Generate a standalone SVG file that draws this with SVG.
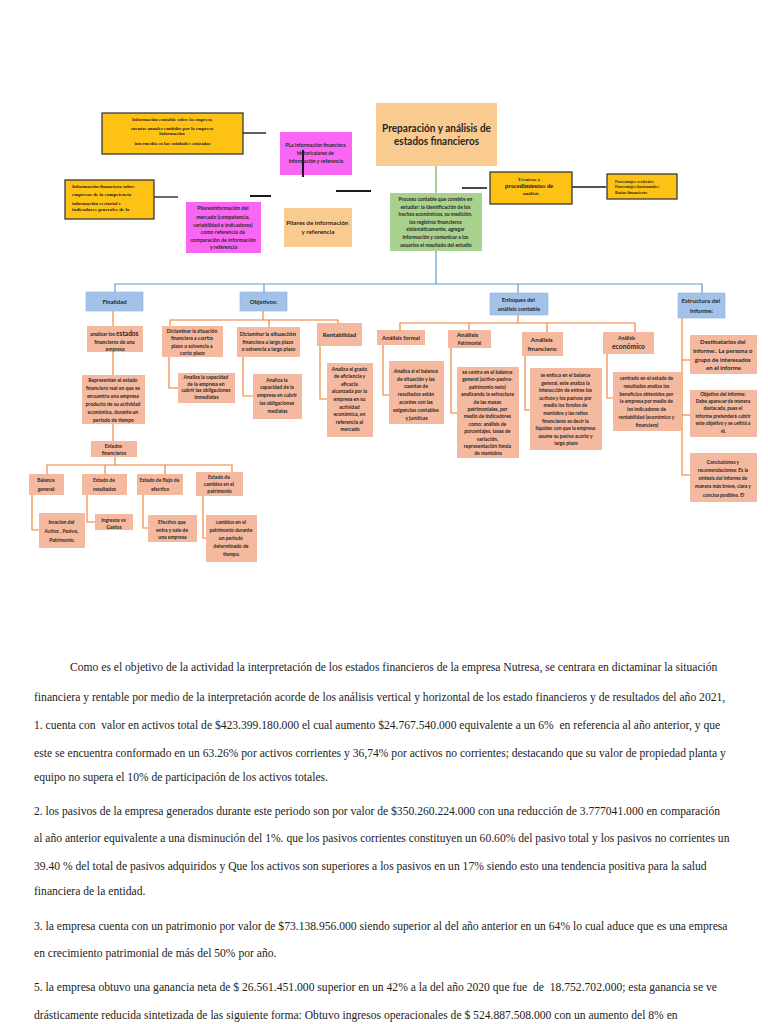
<svg xmlns="http://www.w3.org/2000/svg" width="768" height="1024" viewBox="0 0 768 1024">
<style>
.bg{fill:#ffffff}
.peach{fill:#FACB90}
.green{fill:#A9D18E}
.yellow{fill:#FDC213;stroke:#3a3a3a;stroke-width:1.3}
.pink{fill:#F966F3}
.blue{fill:#A2C2E8;stroke:#8FB2DE;stroke-width:0.6}
.salmon{fill:#F5B99F}
.lb{font-family:Lato,"Open Sans",sans-serif;font-weight:bold;fill:#262626;text-anchor:middle}
.sf{font-family:"Liberation Serif",serif;font-weight:bold;fill:#262626}
.para{font-family:"Liberation Serif","Times New Roman",serif;font-size:11.6px;fill:#222;white-space:pre}
.ko{fill:none;stroke:#1a1a1a}
.co{fill:none;stroke:#ED7D31;stroke-width:1.1}
.cb{fill:none;stroke:#5B9BD5;stroke-width:1.2}
.cg{fill:none;stroke:#70AD47;stroke-width:1.2}
</style>
<rect class="bg" x="0" y="0" width="768" height="1024"/>

<g id="connectors">
  <line class="ko" x1="243" y1="133" x2="266" y2="133" stroke-width="1.4"/>
  <line class="ko" x1="154" y1="197" x2="178" y2="197" stroke-width="1.3"/>
  <line class="ko" x1="250" y1="196" x2="271" y2="196" stroke-width="2"/>
  <line class="ko" x1="336" y1="191" x2="371" y2="191" stroke-width="2"/>
  <line class="ko" x1="462" y1="188" x2="487" y2="188" stroke-width="1.6"/>
  <line class="ko" x1="572" y1="187" x2="606" y2="187" stroke-width="1.3"/>
  <line class="cg" x1="436" y1="166" x2="436" y2="193"/>
  <polyline class="cb" points="436,251 436,284"/>
  <polyline class="cb" points="115,292 115,284 702,284 702,293"/>
  <line class="cb" x1="264" y1="284" x2="264" y2="292"/>
  <line class="cb" x1="518" y1="284" x2="518" y2="293"/>
  <!-- Finalidad -->
  <line class="co" x1="113" y1="311" x2="113" y2="326"/>
  <line class="co" x1="113" y1="352" x2="113" y2="375"/>
  <line class="co" x1="113" y1="424" x2="113" y2="441"/>
  <!-- Objetivos -->
  <line class="co" x1="263" y1="311" x2="263" y2="320"/>
  <polyline class="co" points="170,326 170,320 338,320 338,323"/>
  <line class="co" x1="269" y1="320" x2="269" y2="327"/>
  <polyline class="co" points="169,357 169,388 178,388"/>
  <polyline class="co" points="243,357 243,396 253,396"/>
  <polyline class="co" points="320,346 320,399 327,399"/>
  <!-- Enfoques -->
  <line class="co" x1="518" y1="315" x2="518" y2="323"/>
  <polyline class="co" points="400,330 400,323 635,323 635,332"/>
  <line class="co" x1="469" y1="323" x2="469" y2="330"/>
  <line class="co" x1="547" y1="323" x2="547" y2="332"/>
  <polyline class="co" points="383,345 383,395 389,395"/>
  <polyline class="co" points="451,348 451,413 457,413"/>
  <polyline class="co" points="525,356 525,410 530,410"/>
  <polyline class="co" points="607,354 607,398 613,398"/>
  <!-- Estructura -->
  <polyline class="co" points="682,318 682,475 690,475"/>
  <line class="co" x1="682" y1="360" x2="690" y2="360"/>
  <line class="co" x1="682" y1="415" x2="690" y2="415"/>
  <!-- Estados financieros -->
  <line class="co" x1="115" y1="457" x2="115" y2="465"/>
  <polyline class="co" points="47,474 47,465 232,465 232,472"/>
  <line class="co" x1="105" y1="465" x2="105" y2="474"/>
  <line class="co" x1="165" y1="465" x2="165" y2="474"/>
  <polyline class="co" points="32,495 32,530 39,530"/>
  <polyline class="co" points="87,495 87,522 95,522"/>
  <polyline class="co" points="143,495 143,528 148,528"/>
  <polyline class="co" points="203,496 203,538 206,538"/>
</g>

<g id="n_title">
  <rect class="peach" x="376" y="103" width="121" height="63"/>
  <text class="lb" font-size="10.5" x="436.5" y="132" textLength="109" lengthAdjust="spacingAndGlyphs">Preparación y análisis de</text>
  <text class="lb" font-size="10.5" x="436.5" y="145" textLength="85" lengthAdjust="spacingAndGlyphs">estados financieros</text>
</g>

<g id="n_proceso">
  <rect class="green" x="390" y="193" width="92" height="58"/>
  <text class="lb" font-size="5">
    <tspan x="436" y="201">Proceso contable que consiste en</tspan>
    <tspan x="436" y="208.6">estudiar: la identificación de los</tspan>
    <tspan x="436" y="216.2">hechos económicos, su medición,</tspan>
    <tspan x="436" y="223.8">los registros financieros</tspan>
    <tspan x="436" y="231.4">sistemáticamente, agregar</tspan>
    <tspan x="436" y="239">información y comunicar a los</tspan>
    <tspan x="436" y="246.6">usuarios el resultado del estudio</tspan>
  </text>
</g>

<g id="n_info_contable">
  <rect class="yellow" x="102" y="113" width="141" height="41"/>
  <text class="sf" font-size="4.8" text-anchor="middle">
    <tspan x="172.5" y="120.5">Información contable sobre la empresa</tspan>
    <tspan x="172.5" y="130">cuentas anuales emitidas por la empresa</tspan>
    <tspan x="172.5" y="135">Información</tspan>
    <tspan x="172.5" y="144.5">intermedia en las entidades cotizadas</tspan>
  </text>
</g>

<g id="n_info_financiera">
  <rect class="yellow" x="65" y="180" width="89" height="39"/>
  <text class="sf" font-size="5">
    <tspan x="72" y="188">Información financiera sobre</tspan>
    <tspan x="72" y="196">empresas de la competencia</tspan>
    <tspan x="72" y="205">información sectorial e</tspan>
    <tspan x="72" y="211">indicadores generales de la</tspan>
  </text>
</g>

<g id="n_pink1">
  <rect class="pink" x="280" y="132" width="72" height="43"/>
  <text class="lb" font-size="5.1">
    <tspan x="316" y="147">PLa información financiera</tspan>
    <tspan x="316" y="155">historicalares de</tspan>
    <tspan x="316" y="163">información y referencia</tspan>
  </text>
  <line class="ko" x1="303" y1="150" x2="303" y2="177" stroke-width="2"/>
</g>

<g id="n_pink2">
  <rect class="pink" x="186" y="202" width="75" height="51"/>
  <text class="lb" font-size="5.2">
    <tspan x="223.5" y="210">Pilaresinformación del</tspan>
    <tspan x="223.5" y="218.5">mercado (competencia,</tspan>
    <tspan x="223.5" y="226.5">variabilidad e indicadores)</tspan>
    <tspan x="223.5" y="234">como referencia de</tspan>
    <tspan x="223.5" y="241.5">comparación de información</tspan>
    <tspan x="223.5" y="249">y referencia</tspan>
  </text>
</g>

<g id="n_pilares">
  <rect class="peach" x="284" y="208" width="68" height="39"/>
  <text class="lb" font-size="6.3">
    <tspan x="318" y="225.3">Pilares de información</tspan>
    <tspan x="318" y="234.3">y referencia</tspan>
  </text>
</g>

<g id="n_tecnicas">
  <rect class="yellow" x="490" y="172" width="82" height="32"/>
  <text class="sf" text-anchor="middle">
    <tspan x="531" y="181" font-size="5">Técnicas y</tspan>
    <tspan x="531" y="188.3" font-size="6.2">procedimientos de</tspan>
    <tspan x="531" y="195" font-size="5">análisis</tspan>
  </text>
</g>

<g id="n_porcentajes">
  <rect class="yellow" x="607" y="174" width="70" height="25"/>
  <text class="sf" font-size="4.2">
    <tspan x="615" y="182.5">Porcentajes verticales</tspan>
    <tspan x="615" y="188.3">Porcentajes horizontales</tspan>
    <tspan x="615" y="193.8">Ratios financieros</tspan>
  </text>
</g>

<g id="n_finalidad">
  <rect class="blue" x="86" y="292" width="57" height="19"/>
  <text class="lb" font-size="6" x="114.5" y="303.7">Finalidad</text>
</g>
<g id="n_objetivos">
  <rect class="blue" x="240" y="292" width="47" height="19"/>
  <text class="lb" font-size="6" x="263.5" y="303.7">Objetivos:</text>
</g>
<g id="n_enfoques">
  <rect class="blue" x="490" y="293" width="58" height="22"/>
  <text class="lb" font-size="5.8">
    <tspan x="519" y="302.3">Enfoques del</tspan>
    <tspan x="519" y="310.5">análisis contable</tspan>
  </text>
</g>
<g id="n_estructura">
  <rect class="blue" x="678" y="293" width="47" height="25"/>
  <text class="lb" font-size="6.2">
    <tspan x="701.5" y="303">Estructura del</tspan>
    <tspan x="701.5" y="312.5">informe:</tspan>
  </text>
</g>

<g id="n_analizar">
  <rect class="salmon" x="87" y="326" width="56" height="26"/>
  <text class="lb" font-size="5">
    <tspan x="115" y="335.6">analizar los <tspan font-size="6.5">estados</tspan></tspan>
    <tspan x="115" y="343.6">financieros de una</tspan>
    <tspan x="115" y="350.6">empresa</tspan>
  </text>
</g>
<g id="n_representan">
  <rect class="salmon" x="82" y="375" width="63" height="49"/>
  <text class="lb" font-size="5">
    <tspan x="113.5" y="381.8">Representan el estado</tspan>
    <tspan x="113.5" y="389.8">financiero real en que se</tspan>
    <tspan x="113.5" y="397.8">encuentra una empresa</tspan>
    <tspan x="113.5" y="405.8">producto de su actividad</tspan>
    <tspan x="113.5" y="413.8">económica, durante un</tspan>
    <tspan x="113.5" y="421.8">periodo de tiempo</tspan>
  </text>
</g>
<g id="n_estados">
  <rect class="salmon" x="91" y="441" width="46" height="16"/>
  <text class="lb" font-size="5">
    <tspan x="114" y="447.8">Estados</tspan>
    <tspan x="114" y="454.8">financieros</tspan>
  </text>
</g>
<g id="n_balance">
  <rect class="salmon" x="29" y="474" width="35" height="21"/>
  <text class="lb" font-size="5">
    <tspan x="46.5" y="481.8">Balance</tspan>
    <tspan x="46.5" y="490.8">general:</tspan>
  </text>
</g>
<g id="n_resultados">
  <rect class="salmon" x="82" y="474" width="45" height="21"/>
  <text class="lb" font-size="5">
    <tspan x="104.5" y="481.8">Estado de</tspan>
    <tspan x="104.5" y="491">resultados</tspan>
  </text>
</g>
<g id="n_flujo">
  <rect class="salmon" x="137" y="474" width="46" height="21"/>
  <text class="lb" font-size="5">
    <tspan x="160" y="481.8">Estado de flujo de</tspan>
    <tspan x="160" y="491">efectivo</tspan>
  </text>
</g>
<g id="n_cambios">
  <rect class="salmon" x="196" y="472" width="47" height="24"/>
  <text class="lb" font-size="5">
    <tspan x="219.5" y="478.8">Estado de</tspan>
    <tspan x="219.5" y="485.8">cambios en el</tspan>
    <tspan x="219.5" y="492.8">patrimonio</tspan>
  </text>
</g>
<g id="n_inracion">
  <rect class="salmon" x="39" y="513" width="46" height="35"/>
  <text class="lb" font-size="5">
    <tspan x="62" y="523.8">Inracion del</tspan>
    <tspan x="62" y="532.8">Activo , Pasivo,</tspan>
    <tspan x="62" y="541.8">Patrimonio.</tspan>
  </text>
</g>
<g id="n_ingresos">
  <rect class="salmon" x="95" y="514" width="38" height="16"/>
  <text class="lb" font-size="5">
    <tspan x="114" y="521.6">Ingresos vs</tspan>
    <tspan x="114" y="528.6">Gastos</tspan>
  </text>
</g>
<g id="n_efectivo">
  <rect class="salmon" x="148" y="515" width="49" height="27"/>
  <text class="lb" font-size="5">
    <tspan x="172.5" y="523.8">Efectivo que</tspan>
    <tspan x="172.5" y="531.6">entra y sale de</tspan>
    <tspan x="172.5" y="539">una empresa</tspan>
  </text>
</g>
<g id="n_cambios_det">
  <rect class="salmon" x="206" y="515" width="51" height="47"/>
  <text class="lb" font-size="5">
    <tspan x="231.5" y="523.8">cambios en el</tspan>
    <tspan x="231.5" y="531.8">patrimonio durante</tspan>
    <tspan x="231.5" y="539.8">un periodo</tspan>
    <tspan x="231.5" y="547.8">determinado de</tspan>
    <tspan x="231.5" y="555.8">tiempo.</tspan>
  </text>
</g>

<g id="n_corto">
  <rect class="salmon" x="162" y="326" width="61" height="31"/>
  <text class="lb" font-size="5">
    <tspan x="192.5" y="332.6">Dictaminar la situación</tspan>
    <tspan x="192.5" y="340.2">financiera a <tspan font-size="6.4">corto</tspan></tspan>
    <tspan x="192.5" y="347.8">plazo o solvencia a</tspan>
    <tspan x="192.5" y="355.4">corto plazo</tspan>
  </text>
</g>
<g id="n_corto_det">
  <rect class="salmon" x="178" y="373" width="57" height="30"/>
  <text class="lb" font-size="5">
    <tspan x="206.5" y="379">Analiza la capacidad</tspan>
    <tspan x="206.5" y="385.7">de la empresa en</tspan>
    <tspan x="206.5" y="392.4">cubrir las obligaciones</tspan>
    <tspan x="206.5" y="399.1">inmediatas</tspan>
  </text>
</g>
<g id="n_largo">
  <rect class="salmon" x="237" y="327" width="63" height="30"/>
  <text class="lb" font-size="5">
    <tspan x="268.5" y="336">Dictaminar la <tspan font-size="6.4">situación</tspan></tspan>
    <tspan x="268.5" y="343.6">financiera a largo plazo</tspan>
    <tspan x="268.5" y="351">o solvencia a largo plazo</tspan>
  </text>
</g>
<g id="n_largo_det">
  <rect class="salmon" x="253" y="374" width="49" height="45"/>
  <text class="lb" font-size="5">
    <tspan x="277.5" y="381.5">Analiza la</tspan>
    <tspan x="277.5" y="389.3">capacidad de la</tspan>
    <tspan x="277.5" y="397.1">empresa en cubrir</tspan>
    <tspan x="277.5" y="404.9">las obligaciones</tspan>
    <tspan x="277.5" y="412.7">mediatas</tspan>
  </text>
</g>
<g id="n_rentabilidad">
  <rect class="salmon" x="317" y="323" width="45" height="23"/>
  <text class="lb" font-size="6" x="339.5" y="337">Rentabilidad</text>
</g>
<g id="n_rent_det">
  <rect class="salmon" x="327" y="363" width="46" height="74"/>
  <text class="lb" font-size="5">
    <tspan x="350" y="370.5">Analiza el grado</tspan>
    <tspan x="350" y="378.1">de eficiencia y</tspan>
    <tspan x="350" y="385.7">eficacia</tspan>
    <tspan x="350" y="393.3">alcanzada por la</tspan>
    <tspan x="350" y="400.9">empresa en su</tspan>
    <tspan x="350" y="408.5">actividad</tspan>
    <tspan x="350" y="416.1">económica, en</tspan>
    <tspan x="350" y="423.7">referencia al</tspan>
    <tspan x="350" y="431.3">mercado</tspan>
  </text>
</g>

<g id="n_formal">
  <rect class="salmon" x="377" y="330" width="48" height="15"/>
  <text class="lb" font-size="5.8" x="401" y="340">Análisis formal</text>
</g>
<g id="n_formal_det">
  <rect class="salmon" x="389" y="361" width="55" height="63"/>
  <text class="lb" font-size="5">
    <tspan x="416.5" y="372.8">Analiza si el balance</tspan>
    <tspan x="416.5" y="380.6">de situación y las</tspan>
    <tspan x="416.5" y="388.4">cuentas de</tspan>
    <tspan x="416.5" y="396.2">resultados están</tspan>
    <tspan x="416.5" y="404">acordes con las</tspan>
    <tspan x="416.5" y="411.8">exigencias contables</tspan>
    <tspan x="416.5" y="419.6">y jurídicas</tspan>
  </text>
</g>
<g id="n_patrimonial">
  <rect class="salmon" x="448" y="330" width="43" height="18"/>
  <text class="lb">
    <tspan x="469.5" y="337.3" font-size="6.4">Análisis</tspan>
    <tspan x="469.5" y="345.2" font-size="4.6">Patrimonial</tspan>
  </text>
</g>
<g id="n_patr_det">
  <rect class="salmon" x="457" y="367" width="62" height="91"/>
  <text class="lb" font-size="5">
    <tspan x="488" y="374">se centra en el balance</tspan>
    <tspan x="488" y="381.4">general (activo-pasivo-</tspan>
    <tspan x="488" y="388.8">patrimonio neto)</tspan>
    <tspan x="488" y="396.2">analizando la estructura</tspan>
    <tspan x="488" y="403.6">de las masas</tspan>
    <tspan x="488" y="411">patrimoniales, por</tspan>
    <tspan x="488" y="418.4">medio de indicadores</tspan>
    <tspan x="488" y="425.8">como: análisis de</tspan>
    <tspan x="488" y="433.2">porcentajes, tasas de</tspan>
    <tspan x="488" y="440.6">variación,</tspan>
    <tspan x="488" y="448">representación fonda</tspan>
    <tspan x="488" y="455.4">de maniobra</tspan>
  </text>
</g>
<g id="n_financiero">
  <rect class="salmon" x="522" y="332" width="41" height="24"/>
  <text class="lb" font-size="6.4">
    <tspan x="542.5" y="341.5">Análisis</tspan>
    <tspan x="542.5" y="351">financiero:</tspan>
  </text>
</g>
<g id="n_fin_det">
  <rect class="salmon" x="530" y="368" width="72" height="82"/>
  <text class="lb" font-size="4.9">
    <tspan x="566" y="377">se enfoca en el balance</tspan>
    <tspan x="566" y="384.6">general, este analiza la</tspan>
    <tspan x="566" y="392.2">interacción de entres los</tspan>
    <tspan x="566" y="399.8">activos y los pasivos por</tspan>
    <tspan x="566" y="407.4">medio los fondos de</tspan>
    <tspan x="566" y="415">maniobra y las ratios</tspan>
    <tspan x="566" y="422.6">financieros es decir la</tspan>
    <tspan x="566" y="430.2">liquidez con que la empresa</tspan>
    <tspan x="566" y="437.8">asume su pasivo acorto y</tspan>
    <tspan x="566" y="445.4">largo plazo</tspan>
  </text>
</g>
<g id="n_economico">
  <rect class="salmon" x="603" y="332" width="51" height="22"/>
  <text class="lb">
    <tspan x="628.5" y="339.5" font-size="5">Análisis</tspan>
    <tspan x="628.5" y="349" font-size="6.8">económico</tspan>
  </text>
</g>
<g id="n_eco_det">
  <rect class="salmon" x="613" y="372" width="68" height="59"/>
  <text class="lb" font-size="4.9">
    <tspan x="647" y="380">centrado en el estado de</tspan>
    <tspan x="647" y="387.8">resultados analiza los</tspan>
    <tspan x="647" y="395.6">beneficios obtenidos por</tspan>
    <tspan x="647" y="403.4">la empresa por medio de</tspan>
    <tspan x="647" y="411.2">los indicadores de</tspan>
    <tspan x="647" y="419">rentabilidad (económico y</tspan>
    <tspan x="647" y="426.8">financiero)</tspan>
  </text>
</g>

<g id="n_destinatarios">
  <rect class="salmon" x="690" y="335" width="67" height="39"/>
  <text class="lb" font-size="6">
    <tspan x="723.5" y="344">Destinatarios del</tspan>
    <tspan x="723.5" y="352.8">informe:. La persona o</tspan>
    <tspan x="723.5" y="361.6">grupo de interesados</tspan>
    <tspan x="723.5" y="370.4">en el informe</tspan>
  </text>
</g>
<g id="n_objetivo_inf">
  <rect class="salmon" x="690" y="390" width="67" height="47"/>
  <text class="lb" font-size="4.8">
    <tspan x="723.5" y="395.5">Objetivo del informe:</tspan>
    <tspan x="723.5" y="402.9">Debe aparecer de manera</tspan>
    <tspan x="723.5" y="410.3">destacada, pues el</tspan>
    <tspan x="723.5" y="417.7">informe pretenderá cubrir</tspan>
    <tspan x="723.5" y="425.1">este objetivo y se ceñirá a</tspan>
    <tspan x="723.5" y="432.5">él.</tspan>
  </text>
</g>
<g id="n_conclusiones">
  <rect class="salmon" x="690" y="453" width="67" height="49"/>
  <text class="lb" font-size="4.9">
    <tspan x="723.5" y="463.8">Conclusiones y</tspan>
    <tspan x="723.5" y="472">recomendaciones: Es la</tspan>
    <tspan x="723.5" y="480.2">síntesis del informe de</tspan>
    <tspan x="723.5" y="488.4">manera más breve, clara y</tspan>
    <tspan x="723.5" y="496.6">concisa posibles. El</tspan>
  </text>
</g>

<g id="paragraphs">
  <text class="para" x="70" y="671">Como es el objetivo de la actividad la interpretación de los estados financieros de la empresa Nutresa, se centrara en dictaminar la situación</text>
  <text class="para" x="34" y="701">financiera y rentable por medio de la interpretación acorde de los análisis vertical y horizontal de los estado financieros y de resultados del año 2021,</text>
  <text class="para" x="34" y="729">1. cuenta con  valor en activos total de $423.399.180.000 el cual aumento $24.767.540.000 equivalente a un 6%  en referencia al año anterior, y que</text>
  <text class="para" x="34" y="757">este se encuentra conformado en un 63.26% por activos corrientes y 36,74% por activos no corrientes; destacando que su valor de propiedad planta y</text>
  <text class="para" x="34" y="781">equipo no supera el 10% de participación de los activos totales.</text>
  <text class="para" x="34" y="815">2. los pasivos de la empresa generados durante este periodo son por valor de $350.260.224.000 con una reducción de 3.777041.000 en comparación</text>
  <text class="para" x="34" y="842">al año anterior equivalente a una disminución del 1%. que los pasivos corrientes constituyen un 60.60% del pasivo total y los pasivos no corrientes un</text>
  <text class="para" x="34" y="870">39.40 % del total de pasivos adquiridos y Que los activos son superiores a los pasivos en un 17% siendo esto una tendencia positiva para la salud</text>
  <text class="para" x="34" y="895">financiera de la entidad.</text>
  <text class="para" x="34" y="930">3. la empresa cuenta con un patrimonio por valor de $73.138.956.000 siendo superior al del año anterior en un 64% lo cual aduce que es una empresa</text>
  <text class="para" x="34" y="957">en crecimiento patrimonial de más del 50% por año.</text>
  <text class="para" x="34" y="991">5. la empresa obtuvo una ganancia neta de $ 26.561.451.000 superior en un 42% a la del año 2020 que fue  de  18.752.702.000; esta ganancia se ve</text>
  <text class="para" x="34" y="1019">drásticamente reducida sintetizada de las siguiente forma: Obtuvo ingresos operacionales de $ 524.887.508.000 con un aumento del 8% en</text>
</g>
</svg>
